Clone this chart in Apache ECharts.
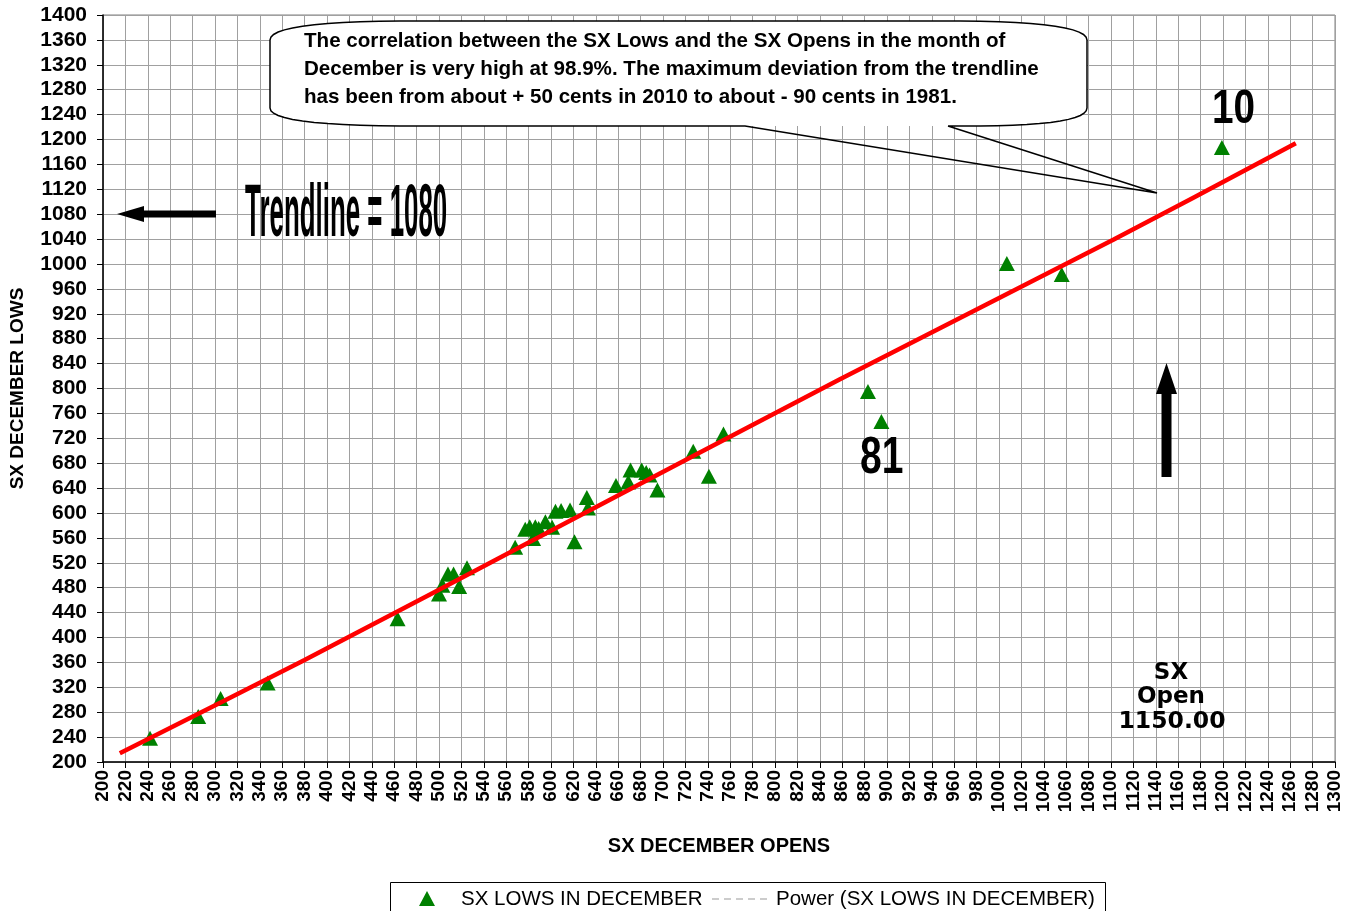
<!DOCTYPE html>
<html>
<head>
<meta charset="utf-8">
<script src="https://cdn.jsdelivr.net/npm/echarts@6/dist/echarts.min.js"></script>
<style>
  html, body { margin: 0; padding: 0; background: #fff; }
  #chart { width: 1347px; height: 911px; }
</style>
</head>
<body>
<div id="chart"></div>
<script>
// SX December opens (x) and December lows (y)
const openValues = [242, 285, 305, 347, 463, 500, 503, 508, 513, 518, 525, 568, 577, 581, 586, 584, 589, 595, 601, 604, 609, 617, 621, 632, 633, 658, 669, 671, 681, 685, 688, 695, 727, 741, 754, 883, 895, 1007, 1056, 1199];
const lowValues = [238, 273, 302, 327, 430, 470, 484, 502, 502, 482, 512, 545, 574, 578, 578, 559, 575, 586, 577, 603, 604, 605, 554, 625, 608, 644, 650, 669, 669, 665, 661, 637, 699, 659, 727, 795, 747, 1001, 983, 1187];

// points read along the red power trendline
const trendOpen = [215, 380, 608, 858, 1102, 1265];
const trendLow = [214, 364, 579, 815, 1039, 1194];

const FONT = '"Liberation Sans", Arial, sans-serif';

const chart = echarts.init(document.getElementById("chart"));

const scatterData = openValues.map((v, i) => [v, lowValues[i]]);
const trendData = trendOpen.map((v, i) => [v, trendLow[i]]);

// rounded corner helper for the speech bubble outline (quadratic curve)
function quad(p0, c, p1, steps) {
  const pts = [];
  for (let i = 1; i <= steps; i++) {
    const t = i / steps;
    const a = (1 - t) * (1 - t), b = 2 * (1 - t) * t, d = t * t;
    pts.push([a * p0[0] + b * c[0] + d * p1[0], a * p0[1] + b * c[1] + d * p1[1]]);
  }
  return pts;
}

// outline starts at the right foot of the tail and runs round to it again
const bubblePts = [[948, 126], [1157, 193], [745, 126], [400, 126]]
  .concat(quad([400, 126], [270, 125], [270, 108], 12))
  .concat([[270, 40]])
  .concat(quad([270, 40], [270, 22], [400, 21], 12))
  .concat([[960, 21]])
  .concat(quad([960, 21], [1087, 22], [1087, 40], 12))
  .concat([[1087, 108]])
  .concat(quad([1087, 108], [1087, 125], [980, 126], 12))
  .concat([[948, 126]]);
// body fill without the tail
const bodyPts = bubblePts.slice(2);

function label(text, x, y, font, align, scaleX) {
  return {
    type: "text",
    x: x,
    y: y,
    z: 110,
    scaleX: scaleX || 1,
    style: {
      text: text,
      font: font,
      fill: "#000",
      align: align || "left",
      textAlign: align || "left",
      verticalAlign: "middle",
      textVerticalAlign: "middle",
    },
  };
}

const plain = (v) => String(v);

const option = {
  animation: false,
  backgroundColor: "#fff",
  grid: {
    left: 103,
    right: 12,
    top: 15,
    bottom: 149,
    show: true,
    borderColor: "#808080",
    borderWidth: 1,
  },
  xAxis: {
    type: "value",
    min: 200,
    max: 1300,
    interval: 20,
    name: "SX DECEMBER OPENS",
    nameLocation: "middle",
    nameGap: 74,
    nameTextStyle: { fontFamily: FONT, fontWeight: "bold", fontSize: 20, color: "#000" },
    axisLine: { lineStyle: { color: "#000", width: 1.5 } },
    axisTick: { length: 6, lineStyle: { color: "#000" } },
    axisLabel: {
      rotate: 90,
      margin: 8,
      formatter: plain,
      fontFamily: FONT,
      fontWeight: "bold",
      fontSize: 19,
      color: "#000",
    },
    splitLine: { lineStyle: { color: "#a0a0a0", width: 1 } },
  },
  yAxis: {
    type: "value",
    min: 200,
    max: 1400,
    interval: 40,
    name: "SX DECEMBER LOWS",
    nameLocation: "middle",
    nameGap: 76,
    nameTextStyle: { fontFamily: FONT, fontWeight: "bold", fontSize: 19, color: "#000" },
    axisLine: { show: true, lineStyle: { color: "#000", width: 1.5 } },
    axisTick: { show: true, length: 6, lineStyle: { color: "#000" } },
    axisLabel: {
      margin: 16,
      formatter: plain,
      fontFamily: FONT,
      fontWeight: "bold",
      fontSize: 21,
      color: "#000",
    },
    splitLine: { lineStyle: { color: "#a0a0a0", width: 1 } },
  },
  series: [
    {
      name: "SX LOWS IN DECEMBER",
      type: "scatter",
      data: scatterData,
      symbol: "triangle",
      symbolSize: [16, 15],
      itemStyle: { color: "#008000", opacity: 1 },
      z: 2,
    },
    {
      name: "Power (SX LOWS IN DECEMBER)",
      type: "line",
      data: trendData,
      smooth: 0.3,
      symbol: "none",
      lineStyle: { color: "#ff0000", width: 4.5 },
      z: 3,
    },
  ],
  graphic: [
    // speech bubble
    { type: "polygon", z: 100, shape: { points: bodyPts }, style: { fill: "#fff" } },
    { type: "polyline", z: 101, shape: { points: bubblePts }, style: { fill: null, stroke: "#000", lineWidth: 1.5 } },
    label("The correlation between the SX Lows and the SX Opens in the month of", 304, 41, "bold 20.6px " + FONT),
    label("December is very high at 98.9%. The maximum deviation from the trendline", 304, 69, "bold 20.6px " + FONT),
    label("has been from about + 50 cents in 2010 to about - 90 cents in 1981.", 304, 97, "bold 20.6px " + FONT),
    // left arrow to the 1080 level
    {
      type: "polygon",
      z: 100,
      shape: { points: [[117, 214], [144, 206], [144, 210.5], [216, 210.5], [216, 217.5], [144, 217.5], [144, 222]] },
      style: { fill: "#000" },
    },
    label("Trendline = 1080", 245, 216, "bold 74px " + FONT, "left", 0.35),
    // up arrow
    {
      type: "polygon",
      z: 100,
      shape: { points: [[1166.5, 363], [1177, 394], [1171.5, 394], [1171.5, 477], [1161.5, 477], [1161.5, 394], [1156, 394]] },
      style: { fill: "#000" },
    },
    label("81", 860, 459, "bold 52px " + FONT, "left", 0.75),
    label("10", 1212, 109, "bold 49px " + FONT, "left", 0.79),
    label("SX", 1171, 673, 'bold 23px "DejaVu Sans", sans-serif', "center"),
    label("Open", 1171, 697, 'bold 23px "DejaVu Sans", sans-serif', "center"),
    label("1150.00", 1172, 722, 'bold 23.5px "DejaVu Sans", sans-serif', "center"),
    // legend box
    { type: "rect", z: 100, shape: { x: 390.5, y: 882.5, width: 715, height: 40 }, style: { fill: "#fff", stroke: "#000", lineWidth: 1 } },
    { type: "polygon", z: 101, shape: { points: [[427, 891], [435, 906], [419, 906]] }, style: { fill: "#008000" } },
    label("SX LOWS IN DECEMBER", 461, 899, "20.5px " + FONT),
    { type: "line", z: 101, shape: { x1: 712, y1: 899, x2: 770, y2: 899 }, style: { stroke: "#999", lineWidth: 1, lineDash: [7, 5] } },
    label("Power (SX LOWS IN DECEMBER)", 776, 899, "20.5px " + FONT),
  ],
};

chart.setOption(option);

window.addEventListener("resize", () => chart.resize());
</script>
</body>
</html>
